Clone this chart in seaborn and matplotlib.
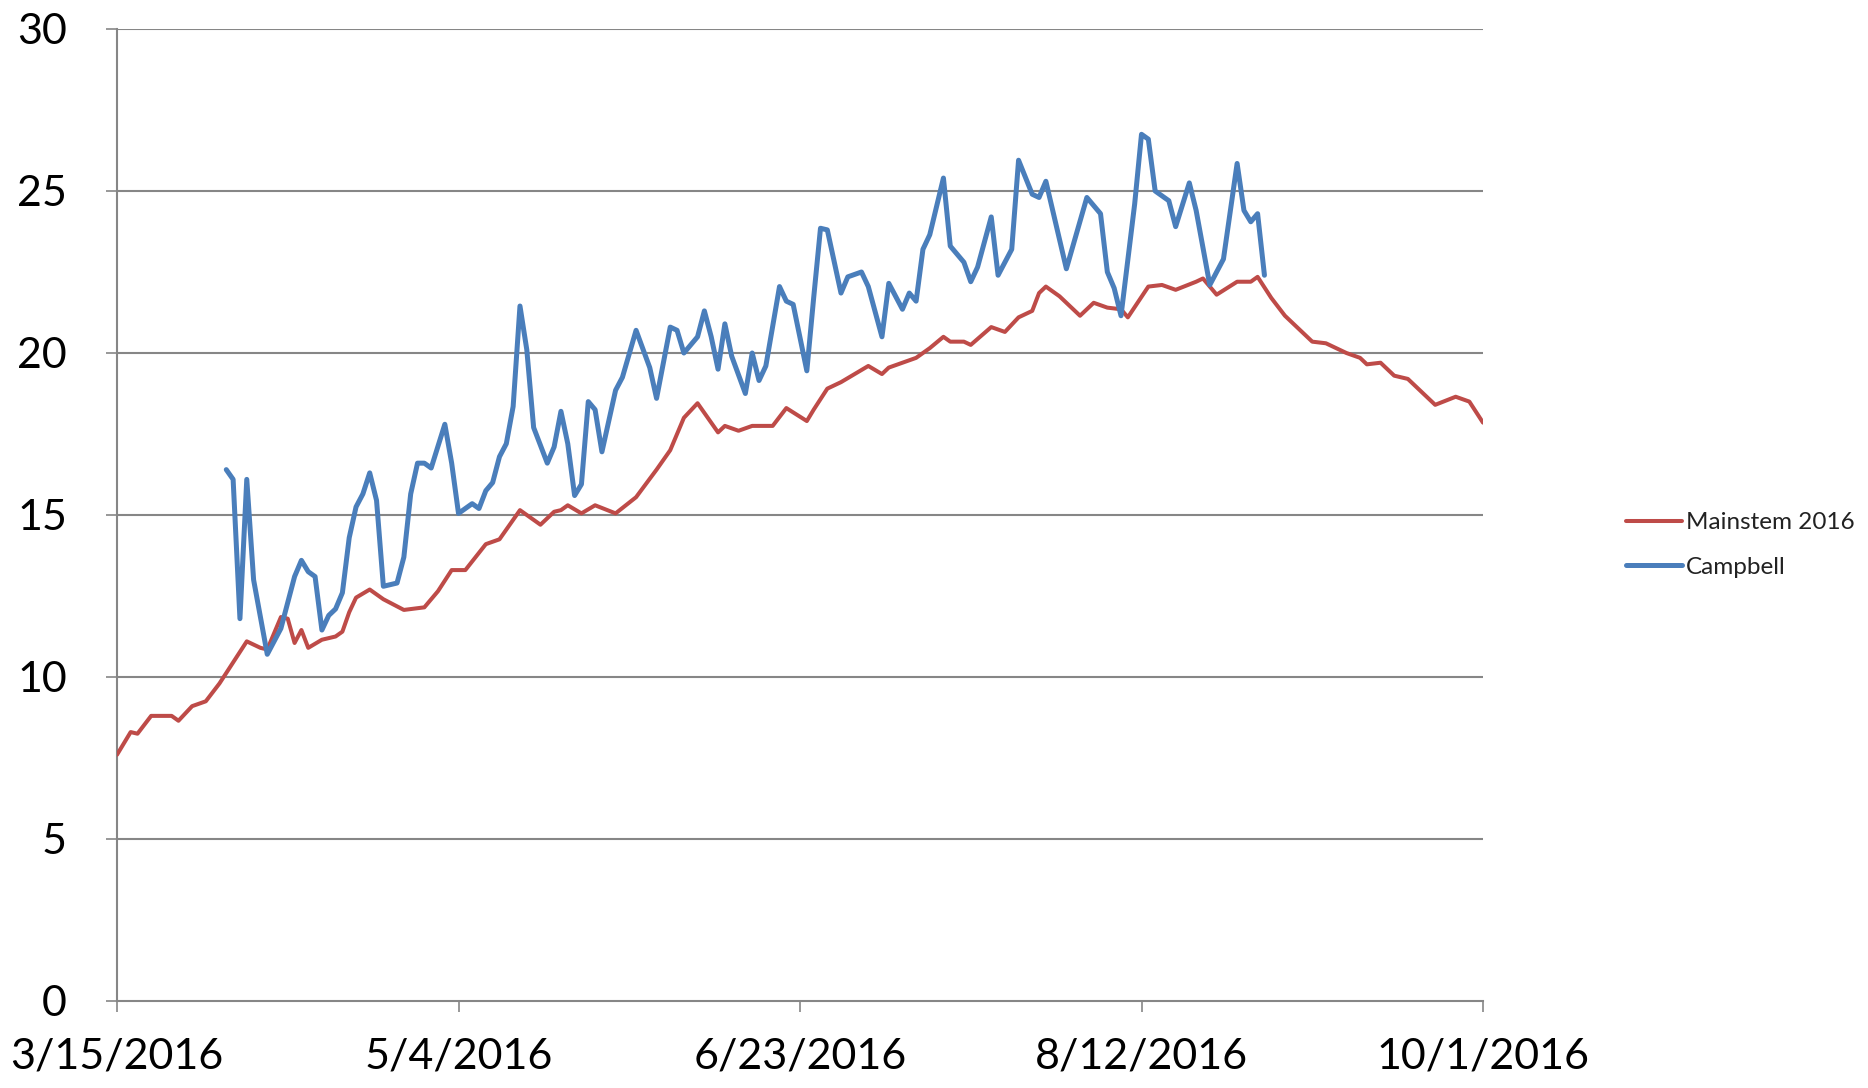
import numpy as np
import pandas as pd
import matplotlib
matplotlib.use("Agg")
import matplotlib.pyplot as plt
import seaborn as sns

# ---------------- data ----------------
start_date = "2016-03-15"
series_names = ["Mainstem 2016", "Campbell"]

mainstem_days = [0, 2, 3, 5, 8, 9, 11, 13, 15, 17, 19, 21, 22, 24, 25, 26, 27, 28, 30, 32,
                 33, 34, 35, 37, 39, 42, 45, 47, 49, 51, 54, 56, 59, 62, 64, 65, 66, 68, 70, 73,
                 76, 79, 81, 83, 85, 88, 89, 91, 93, 96, 98, 101, 102, 104, 106, 110, 112, 113, 117, 119,
                 121, 122, 124, 125, 128, 130, 132, 134, 135, 136, 138, 141, 143, 145, 147, 148, 151, 153, 155, 158,
                 159, 161, 164, 166, 167, 169, 171, 175, 177, 180, 182, 183, 185, 187, 189, 193, 196, 198, 200]
mainstem_vals = [7.6, 8.3, 8.25, 8.8, 8.8, 8.65, 9.1, 9.25, 9.8, 10.45, 11.1, 10.9, 10.85, 11.85, 11.8, 11.05, 11.45, 10.9, 11.15, 11.25,
                 11.4, 12.0, 12.45, 12.7, 12.4, 12.07, 12.15, 12.65, 13.3, 13.3, 14.1, 14.25, 15.15, 14.7, 15.1, 15.15, 15.3, 15.05, 15.3, 15.05,
                 15.55, 16.4, 17.0, 18.0, 18.45, 17.55, 17.75, 17.6, 17.75, 17.75, 18.3, 17.9, 18.25, 18.9, 19.1, 19.6, 19.35, 19.55, 19.85, 20.15,
                 20.5, 20.35, 20.35, 20.25, 20.8, 20.65, 21.1, 21.3, 21.85, 22.05, 21.75, 21.15, 21.55, 21.4, 21.35, 21.1, 22.05, 22.1, 21.95, 22.2,
                 22.3, 21.8, 22.2, 22.2, 22.35, 21.7, 21.15, 20.35, 20.3, 20.0, 19.85, 19.65, 19.7, 19.3, 19.2, 18.4, 18.65, 18.5, 17.85]

campbell_days = [16, 17, 18, 19, 20, 22, 24, 26, 27, 28, 29, 30, 31, 32, 33, 34, 35, 36, 37, 38,
                 39, 41, 42, 43, 44, 45, 46, 48, 49, 50, 52, 53, 54, 55, 56, 57, 58, 59, 60, 61,
                 63, 64, 65, 66, 67, 68, 69, 70, 71, 73, 74, 76, 78, 79, 81, 82, 83, 85, 86, 87,
                 88, 89, 90, 92, 93, 94, 95, 97, 98, 99, 101, 102, 103, 104, 106, 107, 109, 110, 112, 113,
                 115, 116, 117, 118, 119, 121, 122, 124, 125, 126, 128, 129, 131, 132, 134, 135, 136, 139, 142, 144,
                 145, 146, 147, 149, 150, 151, 152, 154, 155, 157, 158, 160, 162, 164, 165, 166, 167, 168]
campbell_vals = [16.4, 16.1, 11.8, 16.1, 13.0, 10.7, 11.5, 13.1, 13.6, 13.25, 13.1, 11.45, 11.9, 12.1, 12.6, 14.3, 15.25, 15.65, 16.3, 15.45,
                 12.8, 12.9, 13.7, 15.65, 16.6, 16.6, 16.45, 17.8, 16.6, 15.05, 15.35, 15.2, 15.75, 16.0, 16.8, 17.2, 18.35, 21.45, 20.1, 17.7,
                 16.6, 17.1, 18.2, 17.2, 15.6, 15.95, 18.5, 18.25, 16.95, 18.85, 19.25, 20.7, 19.55, 18.6, 20.8, 20.7, 20.0, 20.5, 21.3, 20.5,
                 19.5, 20.9, 19.9, 18.75, 20.0, 19.15, 19.6, 22.05, 21.6, 21.5, 19.45, 21.7, 23.85, 23.8, 21.85, 22.35, 22.5, 22.05, 20.5, 22.15,
                 21.35, 21.85, 21.6, 23.2, 23.65, 25.4, 23.3, 22.8, 22.2, 22.65, 24.2, 22.4, 23.2, 25.95, 24.9, 24.8, 25.3, 22.6, 24.8, 24.3,
                 22.5, 22.0, 21.15, 24.6, 26.75, 26.6, 25.0, 24.7, 23.9, 25.25, 24.4, 22.1, 22.9, 25.85, 24.4, 24.05, 24.3, 22.4]

x_tick_days = [0, 50, 100, 150, 200]
x_tick_labels = ["3/15/2016", "5/4/2016", "6/23/2016", "8/12/2016", "10/1/2016"]
y_ticks = [0, 5, 10, 15, 20, 25, 30]

colors = {"Mainstem 2016": "#BE4B48", "Campbell": "#4A7EBB"}

# ---------------- build frame ----------------
t0 = pd.Timestamp(start_date)
df_main = pd.DataFrame({"date": t0 + pd.to_timedelta(mainstem_days, unit="D"),
                        "temp": mainstem_vals, "series": series_names[0]})
df_camp = pd.DataFrame({"date": t0 + pd.to_timedelta(campbell_days, unit="D"),
                        "temp": campbell_vals, "series": series_names[1]})
df = pd.concat([df_main, df_camp], ignore_index=True)

# ---------------- plot ----------------
sns.set_theme(style="white")
plt.rcParams["font.family"] = ["Lato", "DejaVu Sans"]

W, H = 1868, 1088
fig = plt.figure(figsize=(W / 100, H / 100), dpi=100)
ax = fig.add_axes([117 / W, 1 - 1001 / H, (1483 - 117) / W, (1001 - 29) / H])

grid_c = "#868686"
for yv in y_ticks[1:]:
    ax.axhline(yv, color=grid_c, lw=1.5, zorder=0)

sns.lineplot(data=df[df.series == series_names[0]], x="date", y="temp",
             color=colors[series_names[0]], lw=2.9, ax=ax, estimator=None,
             label=series_names[0], zorder=3,
             solid_joinstyle="round", solid_capstyle="round")
sns.lineplot(data=df[df.series == series_names[1]], x="date", y="temp",
             color=colors[series_names[1]], lw=3.6, ax=ax, estimator=None,
             label=series_names[1], zorder=4,
             solid_joinstyle="round", solid_capstyle="round")

ax.set_xlim(t0, t0 + pd.Timedelta(days=200))
ax.set_ylim(0, 30)
ax.set_xticks([t0 + pd.Timedelta(days=d) for d in x_tick_days])
ax.set_xticklabels(x_tick_labels)
ax.set_yticks(y_ticks)
ax.set_yticklabels([str(v) for v in y_ticks])
ax.set_xlabel("")
ax.set_ylabel("")

for s in ["top", "right"]:
    ax.spines[s].set_visible(False)
for s in ["left", "bottom"]:
    ax.spines[s].set_color(grid_c)
    ax.spines[s].set_linewidth(1.5)

ax.tick_params(axis="x", which="major", length=8, width=1.2, color=grid_c,
               direction="out", bottom=True, labelsize=31, pad=18, labelcolor="black")
ax.tick_params(axis="y", which="major", length=8, width=1.2, color=grid_c,
               direction="out", left=True, labelsize=31, pad=28, labelcolor="black")
ax.patch.set_alpha(0)

handles, labels = ax.get_legend_handles_labels()
ax.legend_.remove()
leg = fig.legend(handles, labels, loc="center left",
                 bbox_to_anchor=(1626 / W, 1 - 545 / H), frameon=False,
                 fontsize=17.5, handlelength=2.3, handletextpad=0.15,
                 labelspacing=0.95, borderpad=0, borderaxespad=0)
for t in leg.get_texts():
    t.set_color("#222222")

fig.savefig("out.png", dpi=100)
